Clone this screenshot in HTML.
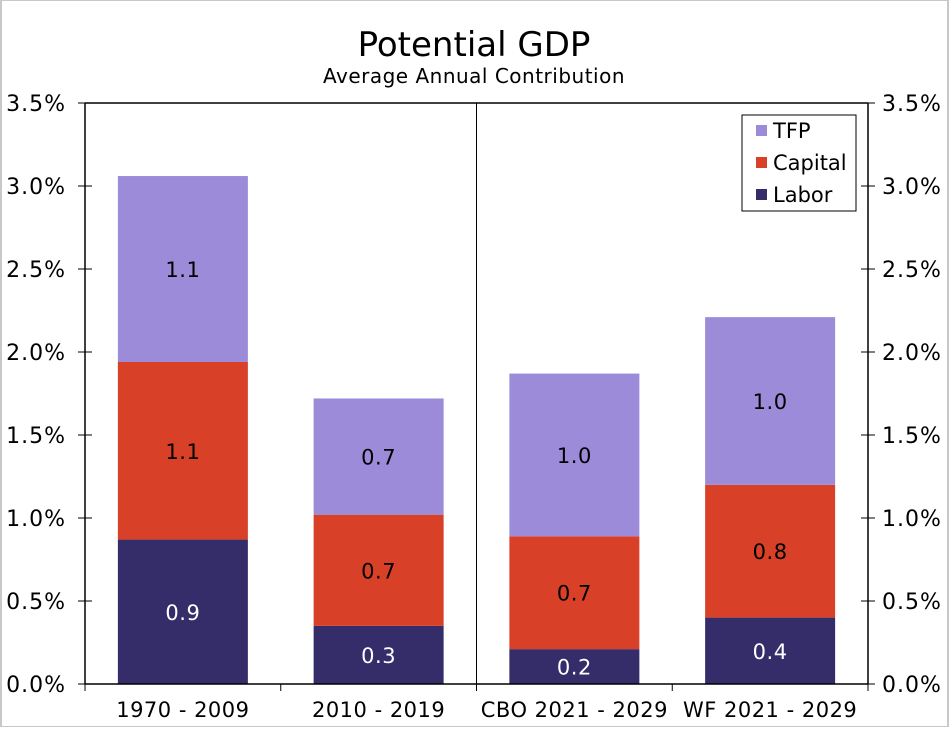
<!DOCTYPE html>
<html><head><meta charset="utf-8"><style>
html,body{margin:0;padding:0;background:#fff;}
body{width:949px;height:727px;overflow:hidden;font-family:"DejaVu Sans","Liberation Sans",sans-serif;}
</style></head><body>
<svg id="chart" width="949" height="727" xmlns="http://www.w3.org/2000/svg">
<rect x="1" y="0" width="947" height="727" fill="#fff" stroke="#c8c8c8" stroke-width="2"/>
<text x="474" y="56" text-anchor="middle" font-size="34" fill="#000">Potential GDP</text>
<text x="474" y="83" text-anchor="middle" font-size="20" letter-spacing="0.5" fill="#000">Average Annual Contribution</text>
<g id="plot"></g>
</svg>
<script>
const categories = ["1970 - 2009","2010 - 2019","CBO 2021 - 2029","WF 2021 - 2029"];
const labor = [0.87,0.35,0.21,0.40];
const capital = [1.07,0.67,0.68,0.80];
const tfp = [1.12,0.70,0.98,1.01];
const laborLabels = ["0.9","0.3","0.2","0.4"];
const capitalLabels = ["1.1","0.7","0.7","0.8"];
const tfpLabels = ["1.1","0.7","1.0","1.0"];
const yTicks = [0,0.5,1,1.5,2,2.5,3,3.5];
const yTickLabels = ["0.0%","0.5%","1.0%","1.5%","2.0%","2.5%","3.0%","3.5%"];

const NS="http://www.w3.org/2000/svg";
const L=85,R=868,T=103,B=684,YMAX=3.5;
const y=v=>B-(v/YMAX)*(B-T);
const cw=(R-L)/categories.length;
const xc=i=>L+cw*(i+0.5);
const BW=130;
const g=document.getElementById('plot');
function mk(tag,attrs,txt){const e=document.createElementNS(NS,tag);for(const k in attrs)e.setAttribute(k,attrs[k]);if(txt!==undefined)e.textContent=txt;g.appendChild(e);return e;}

const series=[[labor,"#352c6a","labor",laborLabels,"#fff"],[capital,"#d84027","capital",capitalLabels,"#000"],[tfp,"#9b8bd9","tfp",tfpLabels,"#000"]];
categories.forEach((c,i)=>{
  let base=0;
  series.forEach(([arr,col,nm,lbls,tc])=>{
    const v=arr[i];
    const r=mk('rect',{x:xc(i)-BW/2,y:y(base+v),width:BW,height:y(base)-y(base+v),fill:col});
    
    
    const t=mk('text',{x:xc(i),y:y(base+v/2)+8,'text-anchor':'middle','font-size':'21','letter-spacing':'0.5',fill:tc},lbls[i]);
    
    
    base+=v;
  });
  const cl=mk('text',{x:xc(i),y:B+33,'text-anchor':'middle','font-size':'21','letter-spacing':'0.5',fill:'#000'},c);
  
  
});
let a=mk('line',{x1:L,y1:T,x2:R,y2:T,stroke:'#000','stroke-width':1.5});

a=mk('line',{x1:L,y1:T,x2:L,y2:B,stroke:'#000','stroke-width':1.5});

a=mk('line',{x1:R,y1:T,x2:R,y2:B,stroke:'#000','stroke-width':1.5});

a=mk('line',{x1:L,y1:B,x2:R,y2:B,stroke:'#000','stroke-width':1.5});

a=mk('line',{x1:L+cw*2,y1:T,x2:L+cw*2,y2:B,stroke:'#000','stroke-width':1});

for(let i=0;i<=categories.length;i++){
  a=mk('line',{x1:L+cw*i,y1:B,x2:L+cw*i,y2:B+7,stroke:'#000','stroke-width':1});
  
}
yTicks.forEach((v,i)=>{
  let t=mk('line',{x1:L-7,y1:y(v),x2:L+7,y2:y(v),stroke:'#000','stroke-width':1});
  
  t=mk('line',{x1:R-7,y1:y(v),x2:R+7,y2:y(v),stroke:'#000','stroke-width':1});
  
  let l=mk('text',{x:66,y:y(v)+8,'text-anchor':'end','font-size':'22','letter-spacing':'1',fill:'#000'},yTickLabels[i]);
  
  l=mk('text',{x:882,y:y(v)+8,'text-anchor':'start','font-size':'22','letter-spacing':'1',fill:'#000'},yTickLabels[i]);
  
});
const lg=mk('rect',{x:742,y:115,width:114,height:96,fill:'#fff',stroke:'#000','stroke-width':1});

[["TFP","#9b8bd9"],["Capital","#d84027"],["Labor","#352c6a"]].forEach(([n,c],i)=>{
  const yy=131+i*32;
  const s=mk('rect',{x:756,y:yy-6,width:11,height:11,fill:c});
  
  const t=mk('text',{x:773,y:yy+7,'font-size':'21',fill:'#000'},n);
  
});
</script>
</body></html>
